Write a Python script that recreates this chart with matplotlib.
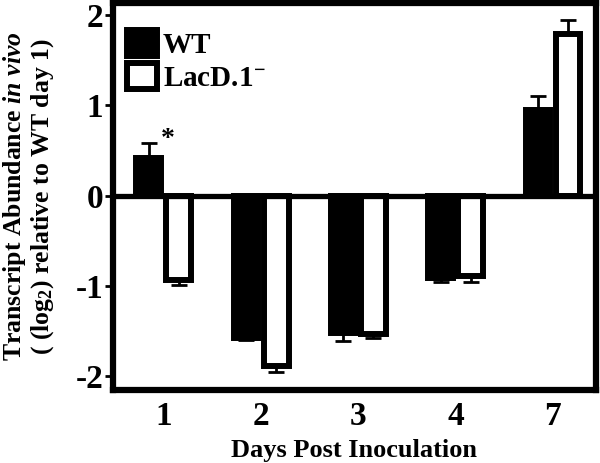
import matplotlib
matplotlib.use("Agg")
import matplotlib.pyplot as plt
import numpy as np

days = ["1", "2", "3", "4", "7"]
wt = [0.42, -1.58, -1.53, -0.91, 0.95]
wt_err = [0.16, 0.02, 0.08, 0.05, 0.15]
lacd = [-0.94, -1.89, -1.54, -0.89, 1.79]
lacd_err = [0.05, 0.07, 0.04, 0.07, 0.16]
series_labels = ["WT", "LacD.1$^{-}$"]

plt.rcParams["font.family"] = ["Liberation Serif", "DejaVu Serif"]
plt.rcParams["font.weight"] = "bold"
plt.rcParams["mathtext.fontset"] = "custom"
plt.rcParams["mathtext.rm"] = "Liberation Serif:bold"
plt.rcParams["mathtext.bf"] = "Liberation Serif:bold"
plt.rcParams["mathtext.it"] = "Liberation Serif:bold:italic"

fig = plt.figure(figsize=(6, 4.63), dpi=100)
ax = fig.add_axes([0.188, 0.158, 0.805, 0.8355])

x = np.arange(len(days))
bw = 0.255
off = 0.155
lw_edge = 4.3


def one_sided(vals, errs):
    v = np.asarray(vals)
    e = np.asarray(errs)
    lower = np.where(v < 0, e, 0.0)
    upper = np.where(v >= 0, e, 0.0)
    return np.vstack([lower, upper])


ax.errorbar(x - off, wt, yerr=one_sided(wt, wt_err), fmt="none", ecolor="black",
            elinewidth=2.0, capsize=6, capthick=2.0, zorder=1)
ax.errorbar(x + off, lacd, yerr=one_sided(lacd, lacd_err), fmt="none", ecolor="black",
            elinewidth=2.0, capsize=6, capthick=2.0, zorder=1)

ax.bar(x - off, wt, width=bw, color="black", edgecolor="black", linewidth=lw_edge,
       label=series_labels[0], zorder=2)
ax.bar(x + off, lacd, width=bw, color="white", edgecolor="black", linewidth=lw_edge,
       label=series_labels[1], zorder=2)

ax.axhline(0, color="black", linewidth=3.8, zorder=3)

ax.set_xlim(-0.524, 4.44)
ax.set_ylim(-2.155, 2.135)
ax.set_yticks([-2, -1, 0, 1, 2])
ax.set_yticklabels(["-2", "-1", "0", "1", "2"])
ax.set_xticks(x)
ax.set_xticklabels(days)

for s in ax.spines.values():
    s.set_linewidth(4.5)

ax.tick_params(axis="y", direction="out", length=6, width=2.0, pad=1, labelsize=24)
ax.tick_params(axis="x", length=0, pad=8, labelsize=24)

ax.set_xlabel("Days Post Inoculation", fontsize=19, fontweight="bold", labelpad=5)
ax.set_ylabel("Transcript Abundance $\\mathit{in\\ vivo}$\n( (log$_2$) relative to WT day 1)",
              fontsize=18.5, fontweight="bold", linespacing=1.05)
ax.yaxis.set_label_coords(-0.118, 0.5)

ax.text(0.04, 0.55, "*", fontsize=20, fontweight="bold", ha="center", va="baseline")

leg = ax.legend(loc="upper left", bbox_to_anchor=(0.029, 0.93), frameon=False,
                fontsize=21, handlelength=1.03, handleheight=1.0, handletextpad=0.2,
                labelspacing=0.12, borderpad=0, borderaxespad=0)

fig.savefig("out.png", dpi=100)
